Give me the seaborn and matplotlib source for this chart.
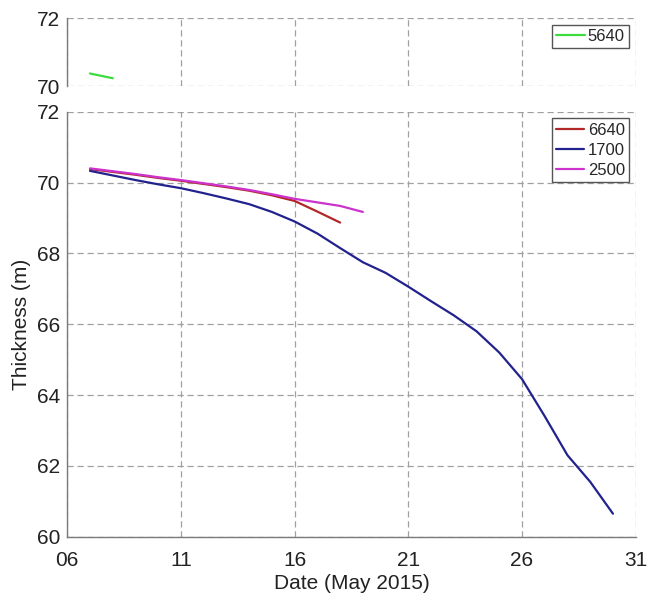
import matplotlib
matplotlib.use('Agg')
import matplotlib.pyplot as plt
import seaborn as sns
import pandas as pd
import numpy as np

# Thickness series (m) by day of May 2015
days_5640 = [7, 8]
thick_5640 = [70.37, 70.23]

days_6640 = [7, 8, 9, 10, 11, 12, 13, 14, 15, 16, 17, 18]
thick_6640 = [70.38, 70.30, 70.22, 70.13, 70.05, 69.96, 69.87, 69.77, 69.64, 69.48, 69.18, 68.87]

days_1700 = list(range(7, 31))
thick_1700 = [70.33, 70.20, 70.07, 69.95, 69.84, 69.70, 69.55, 69.39, 69.17, 68.90,
              68.56, 68.15, 67.75, 67.45, 67.06, 66.65, 66.25, 65.80, 65.20, 64.45,
              63.40, 62.30, 61.55, 60.65]

days_2500 = [7, 8, 9, 10, 11, 12, 13, 14, 15, 16, 17, 18, 19]
thick_2500 = [70.40, 70.32, 70.24, 70.15, 70.07, 69.98, 69.89, 69.79, 69.67, 69.54, 69.44, 69.34, 69.17]

xticks = [6, 11, 16, 21, 26, 31]
xtick_labels = ['06', '11', '16', '21', '26', '31']

colors = {'5640': '#3ddc3d', '6640': '#b22727', '1700': '#22228e', '2500': '#cc33cc'}

sns.set_style('white')
plt.rcParams['font.family'] = ['Liberation Sans', 'DejaVu Sans']

top_df = pd.DataFrame({'day': days_5640, 'thickness': thick_5640, 'site': '5640'})
bot_df = pd.concat([
    pd.DataFrame({'day': days_6640, 'thickness': thick_6640, 'site': '6640'}),
    pd.DataFrame({'day': days_1700, 'thickness': thick_1700, 'site': '1700'}),
    pd.DataFrame({'day': days_2500, 'thickness': thick_2500, 'site': '2500'}),
], ignore_index=True)

fig = plt.figure(figsize=(6.61, 5.99), dpi=100)
ax_top = fig.add_axes([0.1018, 0.8564, 0.8599, 0.113])
ax_bot = fig.add_axes([0.1018, 0.104, 0.8599, 0.7095])


def style_axes(ax, yticks):
    ax.set_xlim(6, 31)
    ax.set_xticks(xticks)
    ax.set_yticks(yticks)
    ax.grid(True, color='#a0a0a0', linestyle=(0, (5, 3)), linewidth=0.9)
    ax.set_axisbelow(True)
    for s in ['top', 'right']:
        ax.spines[s].set_visible(False)
    for s in ['left', 'bottom']:
        ax.spines[s].set_color('#7a7a7a')
        ax.spines[s].set_linewidth(1.0)
    ax.tick_params(direction='in', length=3, color='#7a7a7a', labelsize=15,
                   labelcolor='#222222')
    ax.tick_params(axis='y', pad=5)
    ax.tick_params(axis='x', pad=10)


sns.lineplot(data=top_df, x='day', y='thickness', hue='site', palette=colors,
             ax=ax_top, linewidth=1.6)
style_axes(ax_top, [70, 72])
ax_top.set_ylim(70, 72)
ax_top.set_xticklabels([])
ax_top.spines['bottom'].set_visible(False)
ax_top.tick_params(axis='x', length=0)
ax_top.set_xlabel('')
ax_top.set_ylabel('')
ax_top.legend(loc='upper right', fontsize=12, handlelength=1.7, handletextpad=0.2,
              borderpad=0.25, fancybox=False, framealpha=1, edgecolor='#555555',
              borderaxespad=0.4)

sns.lineplot(data=bot_df, x='day', y='thickness', hue='site', palette=colors,
             ax=ax_bot, linewidth=1.6)
style_axes(ax_bot, list(range(60, 73, 2)))
ax_bot.set_ylim(60, 72)
ax_bot.set_xticklabels(xtick_labels)
ax_bot.set_xlabel('Date (May 2015)', fontsize=15, color='#222222', labelpad=3)
ax_bot.set_ylabel('Thickness (m)', fontsize=15, color='#222222', labelpad=4)
ax_bot.legend(loc='upper right', fontsize=12, handlelength=1.7, handletextpad=0.2,
              borderpad=0.25, labelspacing=0.3, fancybox=False, framealpha=1,
              edgecolor='#555555', borderaxespad=0.4)

fig.savefig('out.png', dpi=100)
